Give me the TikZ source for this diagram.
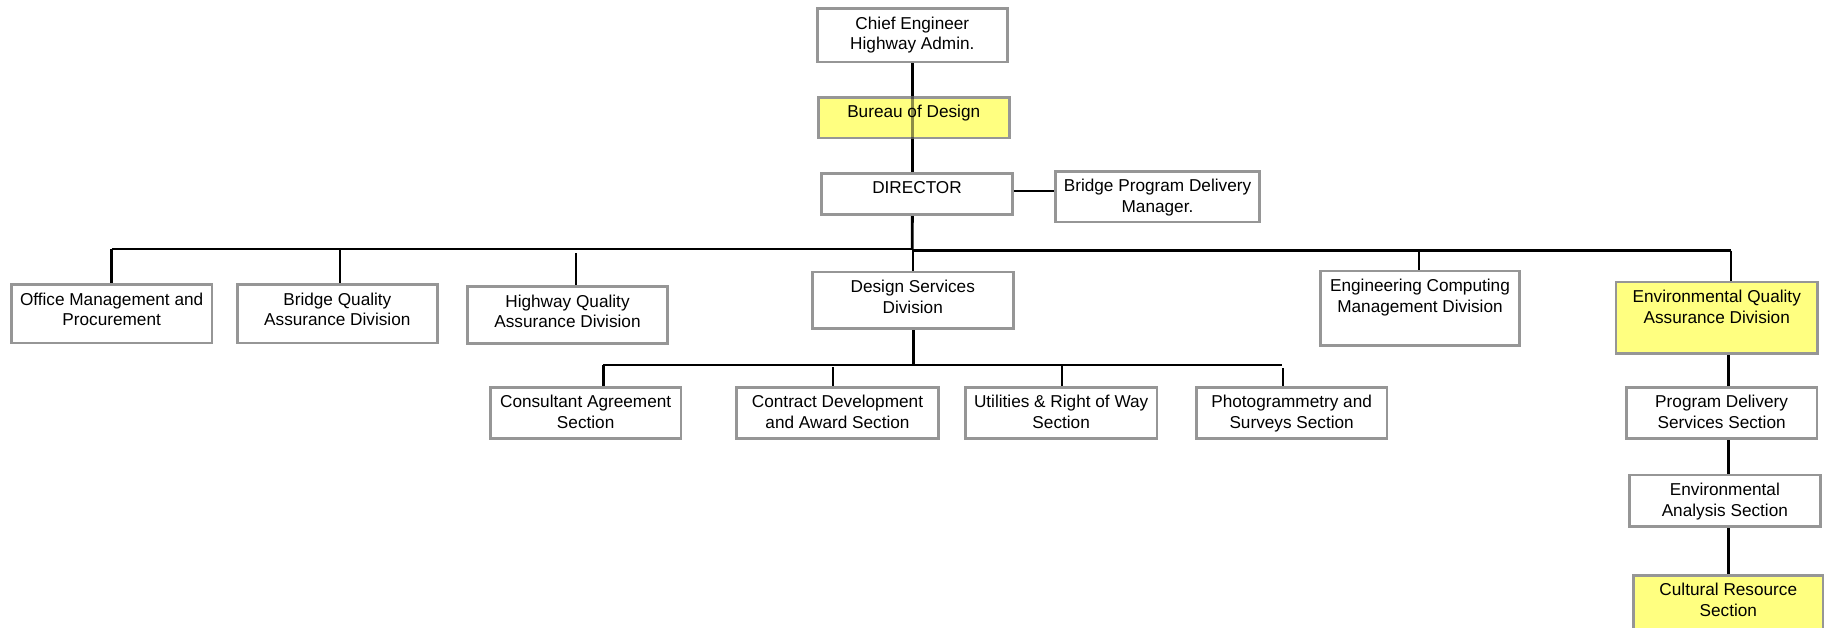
\documentclass[tikz,border=0pt]{standalone}
\usepackage{fontspec}
\setmainfont{Liberation Sans}
\definecolor{boxgray}{RGB}{150,150,150}
\definecolor{hilite}{RGB}{255,255,128}
\pgfdeclarelayer{links}
\pgfsetlayers{links,main}
\tikzset{
  orgbox/.style={rectangle, draw=boxgray, line width=2.8pt, fill=white, inner sep=0pt},
  hlbox/.style={orgbox, fill=hilite},
  orgtext/.style={anchor=north, inner sep=0pt, align=center,
    font=\fontsize{17.2}{20.6}\selectfont},
  link/.style={line width=2.8pt, black},
  thinlink/.style={line width=2pt, black},
}
% \orgunit{name}{x1}{y1}{x2}{y2}{style}{text}: a box given by its outer corners,
% with its caption hung from the top edge
\newcommand\orgunit[7]{%
  \pgfmathsetmacro\ocx{(#2+#4)/2}%
  \pgfmathsetmacro\ocy{(#3+#5)/2}%
  \pgfmathsetmacro\obw{#4-#2-2.8}%
  \pgfmathsetmacro\obh{#5-#3-2.8}%
  \node[#6, minimum width=\obw pt, minimum height=\obh pt] (#1) at (\ocx,\ocy) {};
  \node[orgtext] (#1-t) at ([yshift=-9.3pt]#1.north) {#7};
}
\begin{document}
\begin{tikzpicture}[x=1pt,y=-1pt]
\useasboundingbox (0,0) rectangle (1829,627);

% executive chain
\orgunit{chief}{815.7}{7.3}{1009}{63.3}{orgbox}{Chief Engineer\\Highway Admin.}
\orgunit{bureau}{816.7}{95.7}{1010.7}{139.3}{hlbox}{Bureau of Design}
\orgunit{director}{820}{171.7}{1014}{216}{orgbox}{DIRECTOR}
\orgunit{bpdm}{1054}{170}{1261}{223.3}{orgbox}{Bridge Program Delivery\\Manager.}

% divisions
\orgunit{office}{10}{283.3}{213.3}{344.3}{orgbox}{Office Management and\\Procurement}
\orgunit{bqa}{235.7}{283.3}{439}{344.3}{orgbox}{Bridge Quality\\Assurance Division}
\orgunit{hqa}{466}{285.3}{669}{345}{orgbox}{Highway Quality\\Assurance Division}
\orgunit{dsd}{811}{270.5}{1014.5}{330}{orgbox}{Design Services\\Division}
\orgunit{ecm}{1319}{269.5}{1521}{347}{orgbox}{Engineering Computing\\Management Division}
\orgunit{eqa}{1614.5}{280.5}{1819}{354.5}{hlbox}{Environmental Quality\\Assurance Division}

% sections
\orgunit{cas}{489}{385.7}{682.3}{440}{orgbox}{Consultant Agreement\\Section}
\orgunit{cdas}{735}{385.7}{940}{440}{orgbox}{Contract Development\\and Award Section}
\orgunit{urw}{964}{385.7}{1158.3}{440}{orgbox}{Utilities \& Right of Way\\Section}
\orgunit{pss}{1195}{385.7}{1388.3}{440}{orgbox}{Photogrammetry and\\Surveys Section}
\orgunit{pdss}{1625}{385.7}{1818.3}{440}{orgbox}{Program Delivery\\Services Section}
\orgunit{eas}{1628}{473.5}{1821.7}{527.7}{orgbox}{Environmental\\Analysis Section}
\orgunit{crs}{1632.3}{574}{1824.3}{636}{hlbox}{Cultural Resource\\Section}

% bus points
\coordinate (trunk) at (912.3,249);
\coordinate (busR) at (912.3,250.7);
\coordinate (d-off) at (111.7,249);
\coordinate (d-bqa) at (340,249);
\coordinate (d-hqa) at (575.7,253.3);
\coordinate (d-dsd) at (913.3,250);
\coordinate (d-ecm) at (1419,250.7);
\coordinate (d-eqa) at (1731,250.7);
\coordinate (dirlink) at (1014,191);
\coordinate (sub) at (913.3,365);
\coordinate (s-cas) at (603.3,365);
\coordinate (s-cdas) at (833.3,367);
\coordinate (s-urw) at (1062.3,365);
\coordinate (s-end) at (1281.7,365);
\coordinate (s-pss) at (1283.3,368);
\coordinate (env) at (1728.3,0);

\begin{pgfonlayer}{links}
  % chain from the chief engineer down to the division bus
  \draw[link] (chief.south) -- (chief.south |- director.north);
  \draw[link] (chief.south |- director.south) -- (trunk);
  \draw[link] (dirlink) -- (dirlink -| bpdm.west);
  % division bus
  \draw[link] (d-off) -- (trunk);
  \draw[link] (busR) -- (d-eqa);
  \draw[link] (d-off) -- (d-off |- office.north);
  \draw[thinlink] (d-bqa) -- (d-bqa |- bqa.north);
  \draw[thinlink] (d-hqa) -- (d-hqa |- hqa.north);
  \draw[thinlink] (d-dsd) -- (d-dsd |- dsd.north);
  \draw[link] (d-ecm) -- (d-ecm |- ecm.north);
  \draw[thinlink] (d-eqa) -- (d-eqa |- eqa.north);
  % design services sections
  \draw[link] (dsd.south -| sub) -- (sub);
  \draw[link] (s-cas) -- (s-end);
  \draw[link] (s-cas) -- (s-cas |- cas.north);
  \draw[thinlink] (s-cdas) -- (s-cdas |- cdas.north);
  \draw[thinlink] (s-urw) -- (s-urw |- urw.north);
  \draw[thinlink] (s-pss) -- (s-pss |- pss.north);
  % environmental chain
  \draw[link] (eqa.south -| env) -- (pdss.north -| env);
  \draw[link] (pdss.south -| env) -- (eas.north -| env);
  \draw[link] (eas.south -| env) -- (crs.north -| env);
\end{pgfonlayer}

% the trunk shows through the bureau box
\draw[link, opacity=0.45] (chief.south |- bureau.north) -- (chief.south |- bureau.south);
\end{tikzpicture}
\end{document}
